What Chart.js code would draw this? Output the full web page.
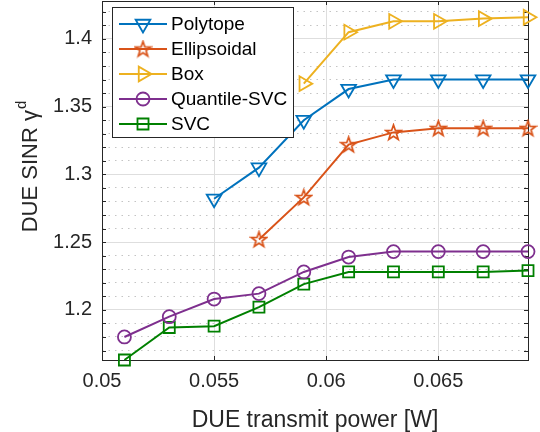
<!DOCTYPE html>
<html>
<head>
<meta charset="utf-8">
<script src="https://cdn.jsdelivr.net/npm/chart.js@4.4.0/dist/chart.umd.min.js"></script>
<style>
  html, body { margin: 0; padding: 0; background: #fff; }
  canvas { display: block; }
</style>
</head>
<body>
<canvas id="sinrChart" width="540" height="432"></canvas>
<script>
// DUE SINR vs DUE transmit power
const powerValues = [0.051, 0.053, 0.055, 0.057, 0.059, 0.061, 0.063, 0.065, 0.067, 0.069];
const polytope    = [null, null, 1.282, 1.305, 1.340, 1.363, 1.370, 1.370, 1.370, 1.370];
const ellipsoidal = [null, null, null, 1.252, 1.283, 1.322, 1.331, 1.334, 1.334, 1.334];
const box         = [null, null, null, null, 1.367, 1.405, 1.413, 1.413, 1.415, 1.416];
const quantileSvc = [1.180, 1.195, 1.208, 1.212, 1.228, 1.239, 1.243, 1.243, 1.243, 1.243];
const svc         = [1.163, 1.187, 1.188, 1.202, 1.219, 1.228, 1.228, 1.228, 1.228, 1.229];
const seriesNames = ['Polytope', 'Ellipsoidal', 'Box', 'Quantile-SVC', 'SVC'];

const xTicks = [0.05, 0.055, 0.06, 0.065];
const yTicks = [1.2, 1.25, 1.3, 1.35, 1.4];
const yMinorTicks = [1.17, 1.18, 1.19, 1.21, 1.22, 1.23, 1.24, 1.26, 1.27, 1.28, 1.29,
                     1.31, 1.32, 1.33, 1.34, 1.36, 1.37, 1.38, 1.39, 1.41, 1.42];

const FONT = '"Liberation Sans", Arial, Helvetica, sans-serif';
const AXIS_COLOR = '#262626';

function makePentagram(size, color) {
    const c = document.createElement('canvas');
    c.width = c.height = size;
    const g = c.getContext('2d');
    const cx = size / 2, cy = size / 2 + 0.5;
    const R = size / 2 - 1.5, r = R * 0.4;
    g.beginPath();
    for (let i = 0; i < 10; i++) {
        const a = -Math.PI / 2 + i * Math.PI / 5;
        const rr = i % 2 ? r : R;
        g.lineTo(cx + rr * Math.cos(a), cy + rr * Math.sin(a));
    }
    g.closePath();
    g.strokeStyle = color;
    g.lineWidth = 1.7;
    g.stroke();
    return c;
}

function toPoints(values) {
    return powerValues.map((x, i) => ({ x: x, y: values[i] })).filter(p => p.y !== null);
}

const styles = [
    { color: '#0072BD', pointStyle: 'triangle', rotation: 180, radius: 8.5 },
    { color: '#D95319', pointStyle: makePentagram(19, '#D95319'), rotation: 0, radius: 8 },
    { color: '#EDB120', pointStyle: 'triangle', rotation: 90, radius: 8.5 },
    { color: '#7E2F8E', pointStyle: 'circle', rotation: 0, radius: 6.5 },
    { color: '#008000', pointStyle: 'rect', rotation: 0, radius: 7.8 }
];
const seriesValues = [polytope, ellipsoidal, box, quantileSvc, svc];

const datasets = seriesValues.map((vals, i) => ({
    label: seriesNames[i],
    data: toPoints(vals),
    borderColor: styles[i].color,
    backgroundColor: 'rgba(0,0,0,0)',
    borderWidth: 2,
    pointStyle: styles[i].pointStyle,
    pointRotation: styles[i].rotation,
    pointRadius: styles[i].radius,
    pointHoverRadius: styles[i].radius,
    pointBorderWidth: 1.8,
    pointBorderColor: styles[i].color,
    pointBackgroundColor: 'rgba(0,0,0,0)',
    clip: false,
    tension: 0
}));

// axes box + inward ticks, drawn under the lines
const boxPlugin = {
    id: 'boxPlugin',
    beforeDatasetsDraw(chart) {
        const { ctx, chartArea: a, scales } = chart;
        ctx.save();
        ctx.strokeStyle = AXIS_COLOR;
        ctx.lineWidth = 1;
        ctx.beginPath();
        [...yTicks, ...yMinorTicks].forEach(v => {
            const y = Math.round(scales.y.getPixelForValue(v)) + 0.5;
            ctx.moveTo(a.left, y); ctx.lineTo(a.left + 4, y);
            ctx.moveTo(a.right, y); ctx.lineTo(a.right - 4, y);
        });
        xTicks.forEach(v => {
            const x = Math.round(scales.x.getPixelForValue(v)) + 0.5;
            ctx.moveTo(x, a.bottom); ctx.lineTo(x, a.bottom - 4);
            ctx.moveTo(x, a.top); ctx.lineTo(x, a.top + 4);
        });
        ctx.stroke();
        ctx.strokeRect(Math.round(a.left) + 0.5, Math.round(a.top) + 0.5,
                       Math.round(a.right - a.left), Math.round(a.bottom - a.top));
        ctx.restore();
    },
    afterDraw(chart) {
        const { ctx } = chart;
        // y axis title with superscript
        ctx.save();
        ctx.translate(37, 167);
        ctx.rotate(-Math.PI / 2);
        ctx.fillStyle = AXIS_COLOR;
        ctx.textBaseline = 'alphabetic';
        const mainText = 'DUE SINR ';
        const gamma = '\u03b3';
        ctx.font = '15px ' + FONT;
        const wSup = ctx.measureText('d').width;
        ctx.font = '22px ' + FONT;
        const wMain = ctx.measureText(mainText).width;
        const wGamma = ctx.measureText(gamma).width;
        let x = -(wMain + wGamma + wSup) / 2;
        ctx.fillText(mainText, x, 0);
        x += wMain;
        ctx.fillText(gamma, x, 0);
        x += wGamma + 1;
        ctx.font = '15px ' + FONT;
        ctx.fillText('d', x, -11);
        ctx.restore();

        // legend
        const lx = 112, ly = 7, lw = 181, lh = 130;
        ctx.save();
        ctx.fillStyle = '#ffffff';
        ctx.fillRect(lx, ly, lw, lh);
        ctx.strokeStyle = AXIS_COLOR;
        ctx.lineWidth = 1;
        ctx.strokeRect(lx + 0.5, ly + 0.5, lw, lh);
        ctx.font = '19px ' + FONT;
        ctx.textBaseline = 'middle';
        chart.data.datasets.forEach((ds, i) => {
            const y = 24 + i * 25;
            ctx.strokeStyle = ds.borderColor;
            ctx.lineWidth = 2;
            ctx.beginPath();
            ctx.moveTo(119, y); ctx.lineTo(167, y);
            ctx.stroke();
            ctx.lineWidth = 1.8;
            ctx.fillStyle = 'rgba(0,0,0,0)';
            Chart.helpers.drawPoint(ctx, {
                pointStyle: ds.pointStyle, rotation: ds.pointRotation,
                radius: ds.pointRadius, borderWidth: 1.8
            }, 143, y);
            ctx.fillStyle = '#000000';
            ctx.fillText(ds.label, 171, y + 1);
        });
        ctx.restore();
    }
};

const ctx = document.getElementById('sinrChart').getContext('2d');
new Chart(ctx, {
    type: 'line',
    data: { datasets: datasets },
    options: {
        responsive: false,
        devicePixelRatio: 1,
        animation: false,
        events: [],
        layout: { autoPadding: false, padding: { left: 0, right: 12, top: 1, bottom: 0 } },
        plugins: {
            legend: { display: false },
            tooltip: { enabled: false }
        },
        scales: {
            x: {
                type: 'linear',
                min: 0.05,
                max: 0.069,
                afterBuildTicks: s => { s.ticks = xTicks.map(v => ({ value: v })); },
                afterFit: s => { s.height = 72; s.paddingLeft = 0; s.paddingRight = 0; },
                border: { display: false },
                grid: { color: '#dedede', lineWidth: 1, drawTicks: false },
                ticks: {
                    autoSkip: false,
                    maxRotation: 0,
                    padding: 9,
                    color: AXIS_COLOR,
                    font: { family: FONT, size: 20 },
                    callback: v => String(+v.toFixed(3))
                },
                title: {
                    display: true,
                    text: 'DUE transmit power [W]',
                    color: AXIS_COLOR,
                    font: { family: FONT, size: 23, lineHeight: 1 },
                    padding: { top: 0, bottom: 0 }
                }
            },
            y: {
                type: 'linear',
                min: 1.163,
                max: 1.428,
                afterBuildTicks: s => { s.ticks = yTicks.map(v => ({ value: v })); },
                afterFit: s => { s.width = 102; s.paddingTop = 0; s.paddingBottom = 0; },
                border: { display: false },
                grid: { color: '#dedede', lineWidth: 1, drawTicks: false },
                ticks: {
                    autoSkip: false,
                    padding: 10,
                    color: AXIS_COLOR,
                    font: { family: FONT, size: 20 },
                    callback: v => String(+v.toFixed(2))
                }
            },
            yMinor: {
                type: 'linear',
                position: 'left',
                min: 1.163,
                max: 1.428,
                afterBuildTicks: s => { s.ticks = yMinorTicks.map(v => ({ value: v })); },
                afterFit: s => { s.width = 0; s.paddingTop = 0; s.paddingBottom = 0; },
                border: { display: false, dash: [1.5, 5] },
                grid: { color: '#c4c4c4', lineWidth: 1, drawTicks: false },
                ticks: { display: false }
            }
        }
    },
    plugins: [boxPlugin]
});
</script>
</body>
</html>
